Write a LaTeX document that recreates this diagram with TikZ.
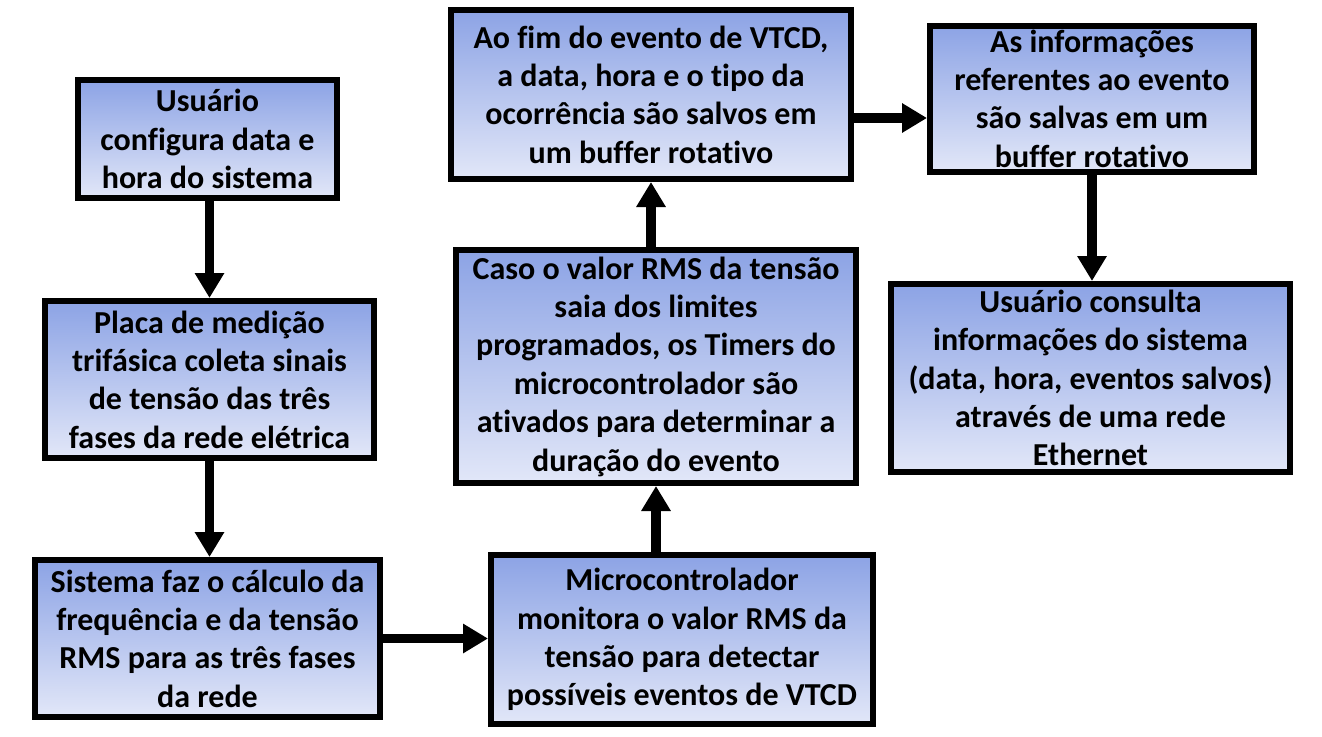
\documentclass[tikz,border=0pt]{standalone}
\usepackage{fontspec}
\setmainfont[Ligatures=NoCommon]{Carlito}
\usetikzlibrary{arrows.meta}
\definecolor{gtop}{RGB}{140,163,229}
\definecolor{gbot}{RGB}{226,231,248}
\tikzset{
  flowbox/.style={draw=black, line width=6pt, top color=gtop, bottom color=gbot,
    inner sep=0pt, align=center, font=\fontsize{32}{38.4}\selectfont\bfseries},
  arr/.style={line width=9.5pt, -{Triangle[length=25pt,width=28pt]}}
}
\begin{document}
\begin{tikzpicture}[x=1pt,y=-1pt]
\useasboundingbox[fill=white] (0,0) rectangle (1322,736);
\node[flowbox, minimum width=259pt, minimum height=118pt] (n1) at (207.5,139)
  {Usuário\\configura data e\\hora do sistema};
\node[flowbox, minimum width=329pt, minimum height=157pt] (n2) at (209.5,379.5)
  {Placa de medição\\trifásica coleta sinais\\de tensão das três\\fases da rede elétrica};
\node[flowbox, minimum width=345pt, minimum height=157pt] (n3) at (207.5,638.5)
  {Sistema faz o cálculo da\\frequência e da tensão\\RMS para as três fases\\da rede};
\node[flowbox, minimum width=382pt, minimum height=169pt] (n4) at (682,639.5)
  {Microcontrolador\\monitora o valor RMS da\\tensão para detectar\\possíveis eventos de VTCD};
\node[flowbox, minimum width=400pt, minimum height=233pt] (n5) at (656,366.5)
  {Caso o valor RMS da tensão\\saia dos limites\\programados, os Timers do\\microcontrolador são\\ativados para determinar a\\duração do evento};
\node[flowbox, minimum width=400pt, minimum height=169pt] (n6) at (651,94.5)
  {Ao fim do evento de VTCD,\\a data, hora e o tipo da\\ocorrência são salvos em\\um buffer rotativo};
\node[flowbox, minimum width=324pt, minimum height=146pt] (n7) at (1092,98.5)
  {As informações\\referentes ao evento\\são salvas em um\\buffer rotativo};
\node[flowbox, minimum width=399pt, minimum height=188pt] (n8) at (1090.5,378)
  {Usuário consulta\\informações do sistema\\(data, hora, eventos salvos)\\através de uma rede\\Ethernet};
\coordinate (y67) at (0,118);
\draw[arr] (n1.south -| n2.north) -- (n2.north);
\draw[arr] (n2.south) -- (n3.north -| n2.south);
\draw[arr] (n3.east) -- (n4.west |- n3.east);
\draw[arr] (n4.north -| n5.south) -- (n5.south);
\draw[arr] (n5.north -| n6.south) -- (n6.south);
\draw[arr] (n6.east |- y67) -- (n7.west |- y67);
\draw[arr] (n7.south) -- (n8.north -| n7.south);
\end{tikzpicture}
\end{document}
